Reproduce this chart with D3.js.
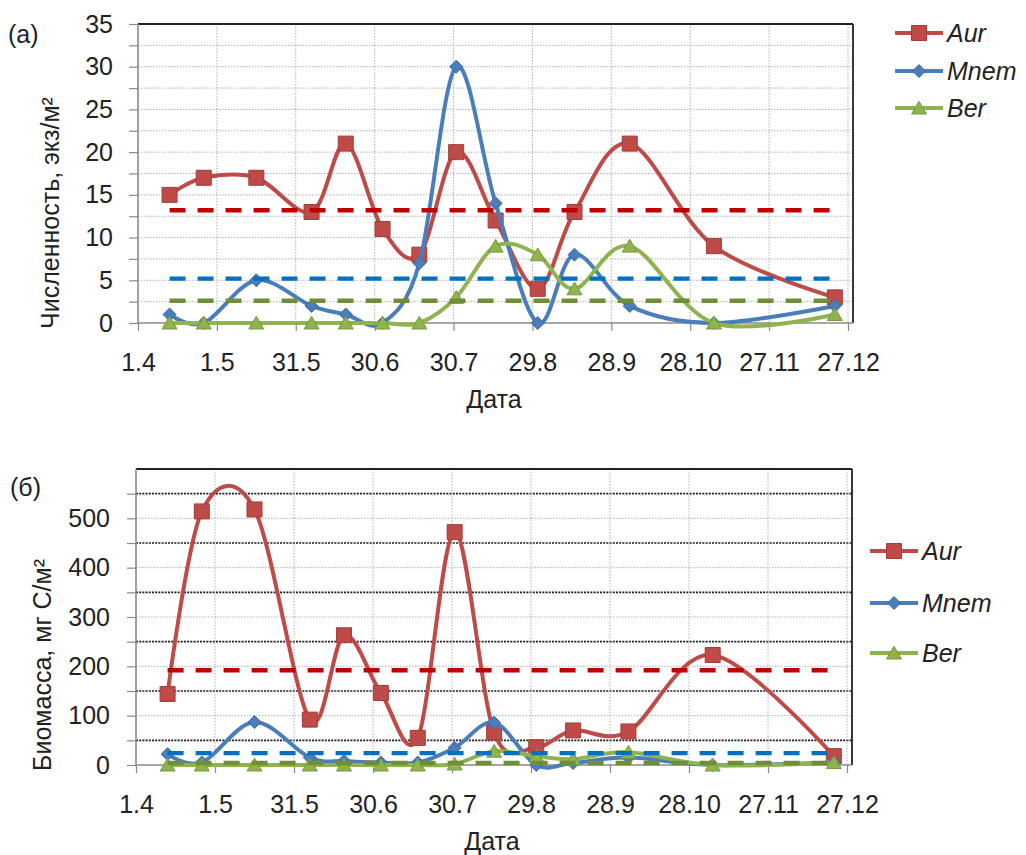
<!DOCTYPE html>
<html>
<head>
<meta charset="utf-8">
<script src="https://cdn.jsdelivr.net/npm/d3@7"></script>
<style>
  body { margin: 0; background: #fff; }
  svg { display: block; }
  text { font-family: "Liberation Sans", Arial, sans-serif; fill: #222; }
</style>
</head>
<body>
<svg id="chart" width="1026" height="855"></svg>
<script>
// Sampling dates (day.month)
const sampleDates = ["13.4", "26.4", "16.5", "6.6", "19.6", "3.7", "17.7", "31.7",
                     "15.8", "31.8", "14.9", "5.10", "6.11", "22.12"];
const tickDates = ["1.4", "1.5", "31.5", "30.6", "30.7", "29.8", "28.9", "28.10", "27.11", "27.12"];
const speciesNames = ["Aur", "Mnem", "Ber"];

// (а) abundance, ind/m²
const aurCount  = [15, 17, 17, 13, 21, 11, 8, 20, 12, 4, 13, 21, 9, 3];
const mnemCount = [1, 0, 5, 2, 1, 0, 7, 30, 14, 0, 8, 2, 0, 2];
const berCount  = [0, 0, 0, 0, 0, 0, 0, 3, 9, 8, 4, 9, 0, 1];
const countMeans = [13.2, 5.2, 2.6];
const countTicks = [0, 5, 10, 15, 20, 25, 30, 35];

// (б) biomass, mg C/m²
const aurBiomass  = [144, 514, 518, 92, 263, 146, 55, 472, 66, 36, 70, 68, 223, 18];
const mnemBiomass = [22, 5, 87, 15, 8, 5, 5, 35, 86, 0, 4, 15, 0, 5];
const berBiomass  = [0, 0, 0, 0, 0, 0, 0, 2, 28, 18, 12, 26, 0, 5];
const biomassMeans = [192, 24, 4];
const biomassTicks = [0, 100, 200, 300, 400, 500];

const parseDM = s => { const [d, m] = s.split(".").map(Number); return new Date(2010, m - 1, d); };
const fmtDM = d3.timeFormat("%-d.%-m");

const lineColors = ["#BE4B48", "#4A7EBB", "#8FB34E"];
const markerStroke = ["#A33B38", "#3A6AA5", "#769A3A"];
const meanColors = ["#C00000", "#0070C0", "#6F8E36"];
const markerKinds = ["square", "diamond", "triangle"];

function markerPath(kind, s) {
  const h = s / 2;
  if (kind === "square") return `M${-h},${-h}H${h}V${h}H${-h}Z`;
  if (kind === "diamond") return `M0,${-h}L${h},0L0,${h}L${-h},0Z`;
  return `M0,${-h * 0.9}L${h},${h * 0.8}L${-h},${h * 0.8}Z`;
}
const markerSize = [15, 13, 15];

const svg = d3.select("#chart");

function drawPanel(p) {
  const g = svg.append("g");
  const x = d3.scaleTime().domain([parseDM("1.4"), parseDM("27.12")]).range([p.left, p.right]);
  const y = d3.scaleLinear().domain([0, p.yMax]).range([p.bottom, p.top]);
  const dates = sampleDates.map(parseDM);
  const ticks = tickDates.map(parseDM);
  const gridVals = d3.range(p.gridStep, p.yMax, p.gridStep);
  const isDark = d => p.darkGrid && (d % p.labelStep !== 0);

  // horizontal grid
  g.append("g").selectAll("line").data(gridVals).join("line")
    .attr("x1", p.left).attr("x2", p.frameRight)
    .attr("y1", d => y(d)).attr("y2", d => y(d))
    .attr("stroke", d => isDark(d) ? "#1a1a1a" : "#b0b0b0")
    .attr("stroke-width", d => isDark(d) ? 1.6 : 1)
    .attr("stroke-dasharray", d => isDark(d) ? "2,1.2" : "1.5,1.5");

  // vertical grid
  g.append("g").selectAll("line").data(ticks.slice(1)).join("line")
    .attr("x1", d => x(d)).attr("x2", d => x(d))
    .attr("y1", p.top).attr("y2", p.bottom)
    .attr("stroke", "#b0b0b0").attr("stroke-dasharray", "1.5,1.5");

  // frame: dark top/right, grey axes left/bottom
  g.append("line").attr("x1", p.left).attr("x2", p.frameRight).attr("y1", p.top).attr("y2", p.top)
    .attr("stroke", "#222").attr("stroke-width", 1.8);
  g.append("line").attr("x1", p.frameRight).attr("x2", p.frameRight).attr("y1", p.top).attr("y2", p.bottom)
    .attr("stroke", "#222").attr("stroke-width", 1.8);

  // y axis
  const yAxis = d3.axisLeft(y)
    .tickValues(d3.range(0, p.yMax + 0.001, p.gridStep))
    .tickSize(9).tickPadding(p.yPad)
    .tickFormat(v => p.yTicks.includes(v) ? v : "");
  const ya = g.append("g").attr("transform", `translate(${p.left},0)`).call(yAxis);
  ya.select(".domain").remove();
  ya.selectAll(".tick line").attr("stroke", "#8a8a8a").attr("stroke-width", 1.2);
  ya.selectAll(".tick text").style("font-size", "25px").style("font-family", "Liberation Sans, Arial, sans-serif").attr("fill", "#222");
  if (p.hideTopTick) ya.selectAll(".tick").filter(v => v === p.yMax).remove();

  // x axis
  const xAxis = d3.axisBottom(x).tickValues(ticks).tickSize(8).tickPadding(22).tickFormat(fmtDM);
  const xa = g.append("g").attr("transform", `translate(0,${p.bottom})`).call(xAxis);
  xa.select(".domain").remove();
  xa.selectAll(".tick line").attr("stroke", "#8a8a8a").attr("stroke-width", 1.2);
  xa.selectAll(".tick text").style("font-size", "25px").style("font-family", "Liberation Sans, Arial, sans-serif").attr("fill", "#222");

  g.append("line").attr("x1", p.left).attr("x2", p.left).attr("y1", p.top).attr("y2", p.bottom)
    .attr("stroke", "#8a8a8a").attr("stroke-width", 1.6);
  g.append("line").attr("x1", p.left).attr("x2", p.frameRight).attr("y1", p.bottom).attr("y2", p.bottom)
    .attr("stroke", "#8a8a8a").attr("stroke-width", 1.6);

  // smoothed series
  const line = d3.line().x(d => x(d[0])).y(d => y(d[1])).curve(d3.curveCardinal.tension(0));
  p.series.forEach((vals, i) => {
    const pts = dates.map((d, k) => [d, vals[k]]);
    g.append("path").datum(pts).attr("d", line)
      .attr("fill", "none").attr("stroke", lineColors[i]).attr("stroke-width", 4)
      .attr("stroke-linejoin", "round");
    g.append("g").selectAll("path").data(pts).join("path")
      .attr("transform", d => `translate(${x(d[0])},${y(d[1])})`)
      .attr("d", markerPath(markerKinds[i], markerSize[i]))
      .attr("fill", lineColors[i]).attr("stroke", markerStroke[i]).attr("stroke-width", 1);
  });

  // mean levels
  p.means.forEach((m, i) => {
    g.append("line")
      .attr("x1", x(dates[0])).attr("x2", x(dates[dates.length - 1]))
      .attr("y1", y(m)).attr("y2", y(m))
      .attr("stroke", meanColors[i]).attr("stroke-width", 4.4)
      .attr("stroke-dasharray", "16,12");
  });

  // axis titles
  g.append("text").attr("x", p.xTitle[0]).attr("y", p.xTitle[1])
    .attr("text-anchor", "middle").attr("dominant-baseline", "central")
    .style("font-size", "25px").text("Дата");
  g.append("text")
    .attr("transform", `translate(${p.yTitle[0]},${p.yTitle[1]}) rotate(-90)`)
    .attr("text-anchor", "middle").attr("dominant-baseline", "central")
    .style("font-size", "25px").text(p.yLabel);
  g.append("text").attr("x", p.panelTag[0]).attr("y", p.panelTag[1])
    .attr("dominant-baseline", "central").style("font-size", "25px").text(p.tag);

  // legend
  speciesNames.forEach((name, i) => {
    const ly = p.legendY[i];
    const lg = g.append("g");
    lg.append("line").attr("x1", p.legendX).attr("x2", p.legendX + 48)
      .attr("y1", ly).attr("y2", ly)
      .attr("stroke", lineColors[i]).attr("stroke-width", 4);
    lg.append("path").attr("transform", `translate(${p.legendX + 24},${ly})`)
      .attr("d", markerPath(markerKinds[i], markerSize[i]))
      .attr("fill", lineColors[i]).attr("stroke", markerStroke[i]).attr("stroke-width", 1);
    lg.append("text").attr("x", p.legendX + 52).attr("y", ly)
      .attr("dominant-baseline", "central")
      .style("font-size", "25px").style("font-style", "italic").text(name);
  });
}

drawPanel({
  left: 138, right: 848, frameRight: 853, top: 24, bottom: 323,
  yMax: 35, gridStep: 2.5, labelStep: 5, yTicks: countTicks, yPad: 16,
  series: [aurCount, mnemCount, berCount], means: countMeans,
  xTitle: [494, 399], yTitle: [50, 213], yLabel: "Численность, экз/м²",
  panelTag: [8, 34], tag: "(а)",
  legendX: 895, legendY: [33, 71, 108], darkGrid: false, hideTopTick: false
});

drawPanel({
  left: 136, right: 847, frameRight: 852, top: 469, bottom: 765,
  yMax: 600, gridStep: 50, labelStep: 100, yTicks: biomassTicks, yPad: 17,
  series: [aurBiomass, mnemBiomass, berBiomass], means: biomassMeans,
  xTitle: [492, 841], yTitle: [42, 665], yLabel: "Биомасса, мг С/м²",
  panelTag: [10, 487], tag: "(б)",
  legendX: 870, legendY: [551, 603, 653], darkGrid: true, hideTopTick: true
});
</script>
</body>
</html>
